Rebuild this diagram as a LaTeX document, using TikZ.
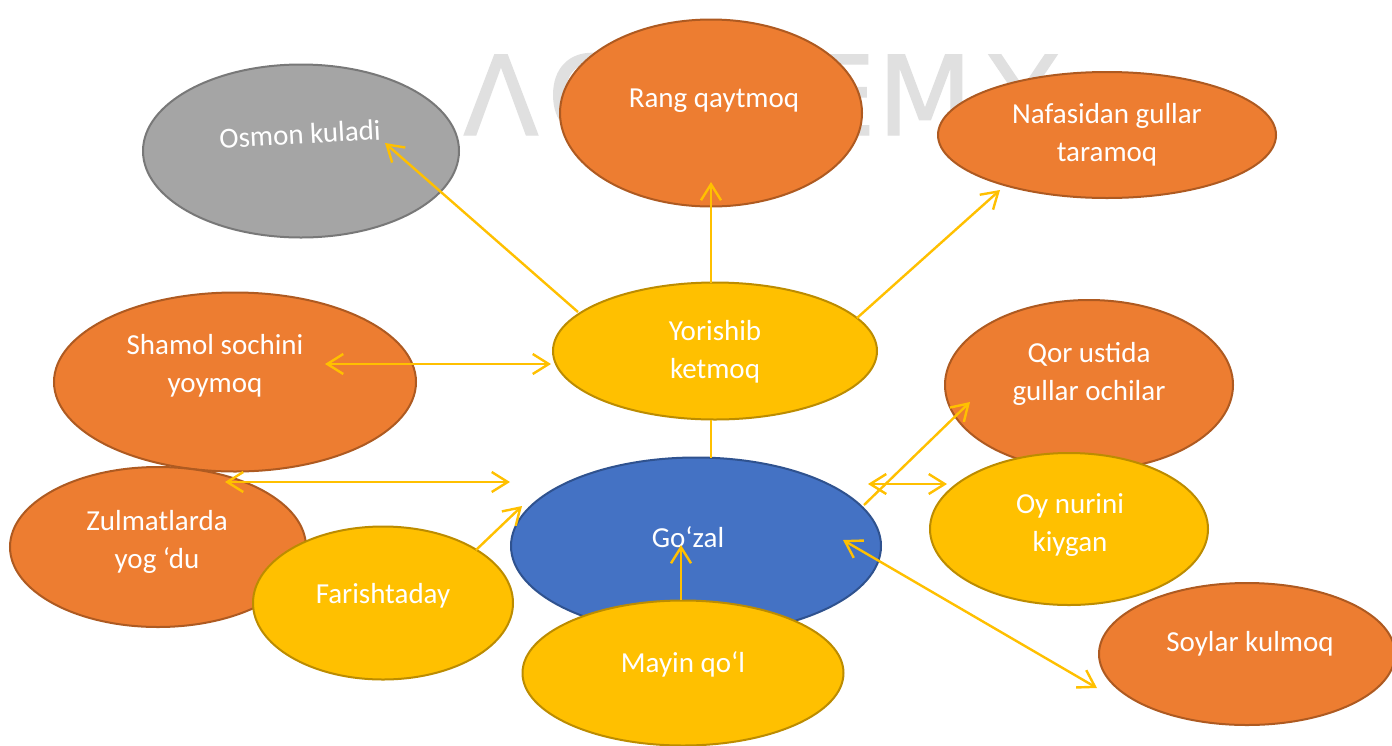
\documentclass[tikz,border=0pt]{standalone}
\usepackage{fontspec}
\setmainfont{Carlito}
\newfontfamily\wmfont[FakeBold=1.3]{DejaVu Sans}
\usetikzlibrary{arrows.meta,shapes.geometric,calc}
\definecolor{orfill}{HTML}{ED7D31}
\definecolor{ordraw}{HTML}{AE5A21}
\definecolor{yefill}{HTML}{FFC000}
\definecolor{yedraw}{HTML}{BC8C00}
\definecolor{grfill}{HTML}{A5A5A5}
\definecolor{grdraw}{HTML}{787878}
\definecolor{blfill}{HTML}{4472C4}
\definecolor{bldraw}{HTML}{2F528F}
\definecolor{arrcol}{HTML}{FFC000}
\definecolor{wmcol}{HTML}{E0E0E0}
\begin{document}
\begin{tikzpicture}[x=0.5pt,y=-0.5pt,
  bub/.style={ellipse, inner sep=0pt, line width=1pt},
  orb/.style={bub, fill=orfill, draw=ordraw},
  yeb/.style={bub, fill=yefill, draw=yedraw},
  grb/.style={bub, fill=grfill, draw=grdraw},
  blb/.style={bub, fill=blfill, draw=bldraw},
  txt/.style={text=white, align=center, inner sep=0pt, font=\fontsize{14.5}{19}\selectfont},
  wm/.style={text=wmcol, anchor=base, inner sep=0pt, font=\wmfont\fontsize{55}{60}\selectfont},
  arr/.style={draw=arrcol, line width=1.2pt, -{Straight Barb[length=8pt,width=10pt]}},
  darr/.style={draw=arrcol, line width=1.2pt, {Straight Barb[length=8pt,width=10pt]}-{Straight Barb[length=8pt,width=10pt]}},
  plain/.style={draw=arrcol, line width=1.2pt}
]
\useasboundingbox[fill=white] (0,0) rectangle (1392,745);

% watermark (letters not hidden by the bubbles)
\node[wm] (w1) at (501,135) {Λ};
\node[wm] (w2) at (586,135) {C};
\node[wm] (w5) at (841,135) {E};
\node[wm] (w6) at (925,135) {M};
\node[wm] (w7) at (1023,135) {Y};

% bubbles
\node[grb, minimum width=158pt, minimum height=86.5pt] (osmon) at (301,151) {};
\node[orb, minimum width=151pt, minimum height=93.5pt] (rang) at (711,113) {};
\node[orb, minimum width=169pt, minimum height=63pt] (nafas) at (1107,135) {};
\node[orb, minimum width=181pt, minimum height=89.5pt] (shamol) at (235,382) {};
\node[orb, minimum width=148pt, minimum height=80pt] (zulmat) at (158,547) {};
\node[yeb, minimum width=162pt, minimum height=68.5pt] (yor) at (715,351) {};
\node[blb, minimum width=185pt, minimum height=88.5pt] (gozal) at (696,546) {};
\node[orb, minimum width=144pt, minimum height=85pt] (qor) at (1089,385) {};
\node[yeb, minimum width=139pt, minimum height=76pt] (oy) at (1069,529) {};
\node[yeb, minimum width=130pt, minimum height=76.5pt] (farish) at (383,603) {};
\node[yeb, minimum width=160.5pt, minimum height=72.5pt] (mayin) at (683,673) {};
\node[orb, minimum width=148pt, minimum height=71pt] (soylar) at (1247,654) {};

% texts
\node[txt, rotate=3] (osmon-t) at (300,134) {Osmon kuladi};
\node[txt] (rang-t) at (714,101) {Rang qaytmoq};
\node[txt] (nafas-t) at (1107,135) {Nafasidan gullar\\taramoq};
\node[txt] (shamol-t) at (215,366) {Shamol sochini\\yoymoq};
\node[txt] (yor-t) at (715,352) {Yorishib\\ketmoq};
\node[txt] (qor-t) at (1089,374) {Qor ustida\\gullar ochilar};
\node[txt] (zulmat-t) at (157,542) {Zulmatlarda\\yog ‘du};
\node[txt] (gozal-t) at (688,537) {Go‘zal};
\node[txt] (oy-t) at (1070,525) {Oy nurini\\kiygan};
\node[txt] (farish-t) at (383,596) {Farishtaday};
\node[txt] (mayin-t) at (683,664) {Mayin qo‘l};
\node[txt] (soylar-t) at (1250,644) {Soylar kulmoq};

% connectors
\draw[arr] ($(yor)+(-137,-39)$) -- ($(osmon)+(84,-8)$);
\draw[arr] ($(yor)+(-4,-68)$) -- ($(rang)+(0,69)$);
\draw[arr] ($(yor)+(142,-33)$) -- ($(nafas)+(-107,55)$);
\draw[darr] ($(shamol)+(90,-18)$) -- ($(yor)+(-164,13)$);
\draw[plain] ($(yor)+(-4,69)$) -- ($(gozal)+(15,-88)$);
\draw[darr] ($(zulmat)+(67,-65)$) -- ($(gozal)+(-186,-64)$);
\draw[arr] ($(farish)+(93,-53)$) -- ($(gozal)+(-174,-40)$);
\draw[arr] ($(mayin)+(-2,-73)$) -- ($(gozal)+(-15,-1)$);
\draw[arr] ($(gozal)+(168,-41)$) -- ($(qor)+(-119,17)$);
\draw[darr] ($(gozal)+(172,-62)$) -- ($(oy)+(-122,-45)$);
\draw[darr] ($(gozal)+(147,-6)$) -- ($(soylar)+(-150,34)$);
\end{tikzpicture}
\end{document}
